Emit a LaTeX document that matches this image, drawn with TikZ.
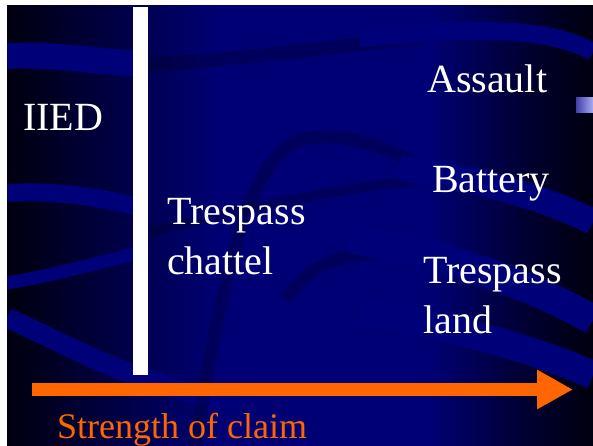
\documentclass[tikz,border=0pt]{standalone}
\usepackage{fontspec}
\setmainfont{Liberation Serif}
\usetikzlibrary{arrows.meta}
\definecolor{SlideDark}{HTML}{00000E}
\definecolor{SlideDim}{HTML}{000048}
\definecolor{SlideBlue}{HTML}{000074}
\definecolor{SlideFade}{HTML}{00002C}
\definecolor{SlideBand}{HTML}{000078}
\definecolor{ClaimOrange}{HTML}{FF6600}
\definecolor{TabLeft}{HTML}{4040A8}
\definecolor{TabRight}{HTML}{AAAAF6}
% tikz fits the 25bp--75bp part of a shading to the path
\pgfdeclarehorizontalshading{slidebg}{100bp}{color(0bp)=(SlideDark); color(25bp)=(SlideDark); color(35bp)=(SlideDim); color(43bp)=(SlideBlue); color(61bp)=(SlideBlue); color(70bp)=(SlideFade); color(75bp)=(SlideDark); color(100bp)=(SlideDark)}
\tikzset{
  caseText/.style={
    text=white, font=\fontsize{40}{50}\selectfont,
    inner sep=0pt, align=left
  },
  axisText/.style={
    text=ClaimOrange, font=\fontsize{36}{42}\selectfont, inner sep=0pt
  },
  lightBand/.style={draw=SlideBand, line width=#1},
  lightBand/.default=20pt,
  darkBand/.style={draw=black, line width=#1, opacity=0.2},
  darkBand/.default=13pt,
  claimArrow/.style={-{Triangle[length=36pt,width=37pt]}, draw=ClaimOrange, line width=13pt}
}
\begin{document}
\begin{tikzpicture}[x=1pt,y=-1pt]
  \useasboundingbox (0,0) rectangle (593,445);
  \fill[white] (0,0) rectangle (593,445);
  % slide background
  \fill[shading=slidebg] (7,5) rectangle (593,445);
  \begin{scope}
    \clip (7,5) rectangle (593,445);
    % swooshes
    \draw[lightBand=26pt] (7,56) .. controls (60,54) and (100,62) .. (140,64);
    \draw[darkBand=14pt] (148,64) .. controls (220,62) and (300,50) .. (420,38);
    \draw[lightBand=18pt] (360,38) .. controls (480,26) and (550,28) .. (593,52);
    \draw[lightBand=18pt] (7,193) .. controls (60,190) and (100,198) .. (135,206);
    \draw[lightBand=13pt] (7,283) .. controls (60,274) and (100,262) .. (135,254);
    \draw[lightBand=20pt] (7,318) .. controls (70,345) and (130,385) .. (240,402);
    \draw[darkBand] (195,445) .. controls (215,330) and (240,160) .. (300,140)
      .. controls (340,130) and (380,145) .. (420,165);
    \draw[darkBand=10pt] (150,232) .. controls (260,205) and (330,190) .. (420,180);
    \draw[darkBand] (285,300) .. controls (310,260) and (360,245) .. (420,258);
    \draw[lightBand=26pt] (400,168) .. controls (480,178) and (550,200) .. (593,222);
    \draw[lightBand=30pt] (350,238) .. controls (470,260) and (540,290) .. (593,320);
    \draw[lightBand=28pt] (360,312) .. controls (470,330) and (540,352) .. (593,375);
    % side tab on the right edge
    \fill[left color=TabLeft, right color=TabRight] (576,97) rectangle (593,112);
  \end{scope}

  % divider bar
  \fill[white] (133,7) rectangle (148,375);

  \node[caseText, anchor=base west] (iied) at (23,130) {IIED};
  \node[caseText, anchor=base west] (assault) at (427,92) {Assault};
  \node[caseText, anchor=base west] (battery) at (432,192) {Battery};
  \node[caseText, anchor=north west] (chattel) at (167,198) {Trespass\\chattel};
  \node[caseText, anchor=north west] (land) at (423,257) {Trespass\\land};

  \coordinate (weak) at (32,389.5);
  \coordinate (strong) at (573,389.5);
  \draw[claimArrow] (weak) -- (strong);
  \node[axisText, anchor=base west] (strength) at (57,438) {Strength of claim};
\end{tikzpicture}
\end{document}
